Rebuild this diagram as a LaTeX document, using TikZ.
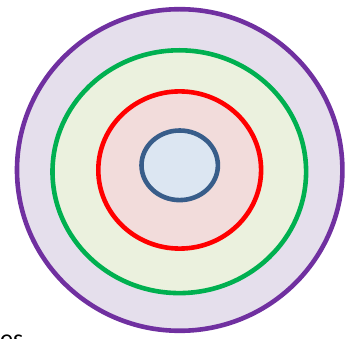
\documentclass[tikz,border=0pt]{standalone}
\usepackage{fontspec}
\setmainfont{Carlito}
\begin{document}
\begin{tikzpicture}[x=1pt,y=-1pt,
  ring/.style={line width=4.6pt},
]
\useasboundingbox (0,0) rectangle (357,339);
\clip (0,0) rectangle (357,339);
\fill[white] (0,0) rectangle (357,339);
\definecolor{purpleline}{HTML}{7030A0}
\definecolor{purplefill}{HTML}{E5DFEC}
\definecolor{greenline}{HTML}{00B050}
\definecolor{greenfill}{HTML}{EBF1DE}
\definecolor{redline}{HTML}{FF0000}
\definecolor{redfill}{HTML}{F2DCDB}
\definecolor{blueline}{HTML}{385D8A}
\definecolor{bluefill}{HTML}{DCE6F2}
\draw[ring,draw=purpleline,fill=purplefill] (179.7,170) ellipse [x radius=162.7, y radius=160.8];
\draw[ring,draw=greenline,fill=greenfill] (179.3,171.7) ellipse [x radius=126.8, y radius=121.4];
\draw[ring,draw=redline,fill=redfill] (179.7,170) ellipse [x radius=81.4, y radius=78.6];
\draw[ring,draw=blueline,fill=bluefill] (179.7,165.3) ellipse [x radius=38.2, y radius=34.8];
\node[anchor=base west,inner sep=0pt,font=\fontsize{26}{30}\selectfont] (es) at (0,348) {es};
\end{tikzpicture}
\end{document}
